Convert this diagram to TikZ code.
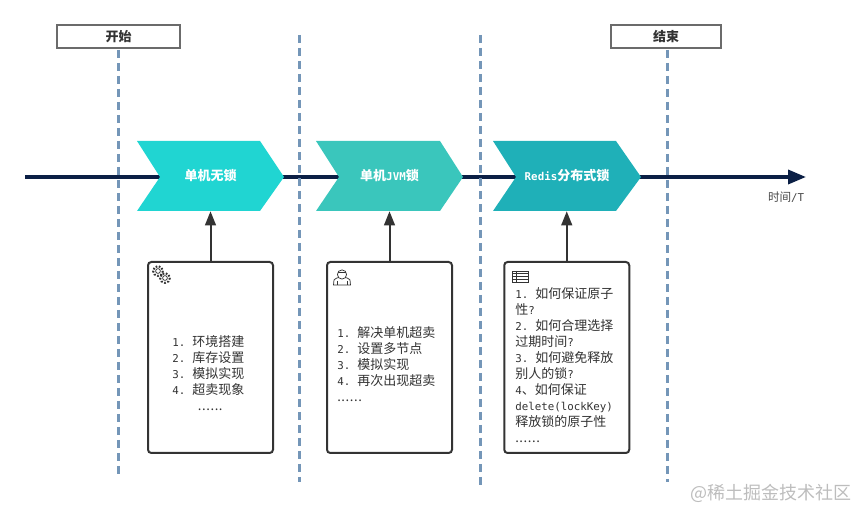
\documentclass[tikz,border=0pt]{standalone}
\usepackage{fontspec}
\usetikzlibrary{arrows.meta}
\setmainfont{Noto Sans CJK SC}
\newfontfamily\monof{DejaVu Sans Mono}
\newcommand{\lat}[1]{{\fontsize{8.1}{12}\selectfont\monof #1}}
\newcommand{\itm}[1]{\makebox[15pt][l]{\lat{#1.}}}
\newcommand{\sixdots}{.\kern0.45pt.\kern0.45pt.\kern0.45pt.\kern0.45pt.\kern0.45pt.}
\definecolor{navyaxis}{HTML}{0B1F45}
\definecolor{dashblue}{HTML}{7496B8}
\definecolor{inkdark}{HTML}{333333}
\definecolor{chevA}{HTML}{20D5D2}
\definecolor{chevB}{HTML}{3AC6BC}
\definecolor{chevC}{HTML}{1FB0B8}
\definecolor{wmark}{HTML}{BDBDBD}
\tikzset{
  x=0.75pt,y=-0.75pt,
  axisline/.style={draw=navyaxis,line width=2.6pt,-{Triangle[length=13.5pt,width=10.5pt]}},
  laneline/.style={draw=dashblue,line width=2.4pt,dash pattern=on 6pt off 3.75pt},
  cardbox/.style={draw=inkdark,line width=1.5pt,fill=white,rounded corners=2.5pt,inner sep=0pt},
  tagbox/.style={draw=black!58,line width=1pt,fill=white,inner sep=0pt,text=inkdark,font=\fontsize{9.75}{12}\selectfont\bfseries},
  chevtext/.style={inner sep=0pt,text=white,font=\fontsize{9.75}{12}\selectfont\bfseries},
  cardtext/.style={inner sep=0pt,text=inkdark,align=left,anchor=west,font=\fontsize{9.75}{12}\selectfont},
  riser/.style={draw=inkdark,line width=1.5pt,-{Triangle[length=10.5pt,width=8pt]}},
  iconline/.style={draw=inkdark,line width=0.55pt},
}
\begin{document}
\begin{tikzpicture}
\useasboundingbox (0,0) rectangle (858,509);
% axis
\coordinate (axisL) at (25,177);
\coordinate (axisR) at (806,177);
\draw[axisline] (axisL) -- (axisR);
% lanes
\coordinate (l1a) at (118.5,50);  \coordinate (l1b) at (118.5,476);
\coordinate (l2a) at (299.5,35);  \coordinate (l2b) at (299.5,482);
\coordinate (l3a) at (480.5,35);  \coordinate (l3b) at (480.5,486);
\coordinate (l4a) at (667.5,50);  \coordinate (l4b) at (667.5,482);
\draw[laneline] (l1a) -- (l1b);
\draw[laneline] (l2a) -- (l2b);
\draw[laneline] (l3a) -- (l3b);
\draw[laneline] (l4a) -- (l4b);
% start / end tags
\node[tagbox,minimum width=92.25pt,minimum height=17.25pt] (startTag) at (118.5,36.5) {开始};
\node[tagbox,minimum width=82.5pt,minimum height=17.25pt] (endTag) at (666,36.5) {结束};
% chevrons
\fill[chevA] (137,141) -- (260,141) -- (284,177) -- (260,211) -- (137,211) -- (160,177) -- cycle;
\fill[chevB] (316,141) -- (440,141) -- (463,177) -- (440,211) -- (316,211) -- (339,177) -- cycle;
\fill[chevC] (493,141) -- (616,141) -- (641,177) -- (616,211) -- (493,211) -- (516,177) -- cycle;
\node[chevtext,minimum width=110.25pt,minimum height=52.5pt] (chev1) at (210.5,176) {\raisebox{-1.1pt}{单机无锁}};
\node[chevtext,minimum width=110.25pt,minimum height=52.5pt] (chev2) at (389.5,176) {\raisebox{-1.1pt}{单机\lat{\bfseries JVM}锁}};
\node[chevtext,minimum width=110.25pt,minimum height=52.5pt] (chev3) at (567,176) {\raisebox{-1.1pt}{\lat{\bfseries Redis}分布式锁}};
% cards
\node[cardbox,minimum width=93.75pt,minimum height=143.25pt] (card1) at (210.5,357.5) {};
\node[cardbox,minimum width=93.75pt,minimum height=143.25pt] (card2) at (389.5,357.5) {};
\node[cardbox,minimum width=93.75pt,minimum height=143.25pt] (card3) at (566.75,357.5) {};
\draw[riser] (card1.north) -- (card1.north |- chev1.south);
\draw[riser] (card2.north) -- (card2.north |- chev2.south);
\draw[riser] (card3.north) -- (card3.north |- chev3.south);
% card text
\node[cardtext] (text1) at (172,373) {\itm{1}环境搭建\\\itm{2}库存设置\\\itm{3}模拟实现\\\itm{4}超卖现象\\\makebox[57pt][c]{\sixdots}};
\node[cardtext] (text2) at (337,364) {\itm{1}解决单机超卖\\\itm{2}设置多节点\\\itm{3}模拟实现\\\itm{4}再次出现超卖\\\sixdots};
\node[cardtext] (text3) at (515,365) {\itm{1}如何保证原子\\性\lat{?}\\\itm{2}如何合理选择\\过期时间\lat{?}\\\itm{3}如何避免释放\\别人的锁\lat{?}\\\lat{4}、如何保证\\\lat{delete(lockKey)}\\释放锁的原子性\\\sixdots};
% axis label
\node[inner sep=0pt,text=black!72,font=\fontsize{8.7}{10}\selectfont,anchor=east] (axisLabel) at (804.5,197) {时间\lat{/T}};
% watermark
\node[inner sep=0pt,text=wmark,font=\fontsize{13.5}{16}\selectfont,anchor=east] (wm) at (852,493) {@稀土掘金技术社区};
% gear icon
\draw[iconline] (158,271) circle (2.4);
\draw[iconline,line width=1.5pt,dash pattern=on 1.3pt off 1.2pt] (158,271) circle (4.9);
\draw[iconline] (165,278) circle (2.4);
\draw[iconline,line width=1.5pt,dash pattern=on 1.3pt off 1.2pt] (165,278) circle (4.9);
% person icon
\draw[iconline,fill=white] (333.5,285) -- (334,280) .. controls (335,278.5) and (337,278) .. (338.5,277.5) -- (345.5,277.5) .. controls (347,278) and (349,278.5) .. (350,280) -- (350.5,285) -- cycle;
\draw[iconline,fill=white] (342,274.5) circle (4.6);
\draw[iconline,line width=0.9pt] (337.8,272.5) -- (346.2,272.5);
\draw[iconline] (337,285) -- (337,281) (347,285) -- (347,281);
% table icon
\draw[iconline] (512,271) rectangle (528,282);
\draw[iconline] (512,273.7) -- (528,273.7) (512,276.5) -- (528,276.5) (512,279.2) -- (528,279.2) (516.5,271) -- (516.5,282);
\end{tikzpicture}
\end{document}
